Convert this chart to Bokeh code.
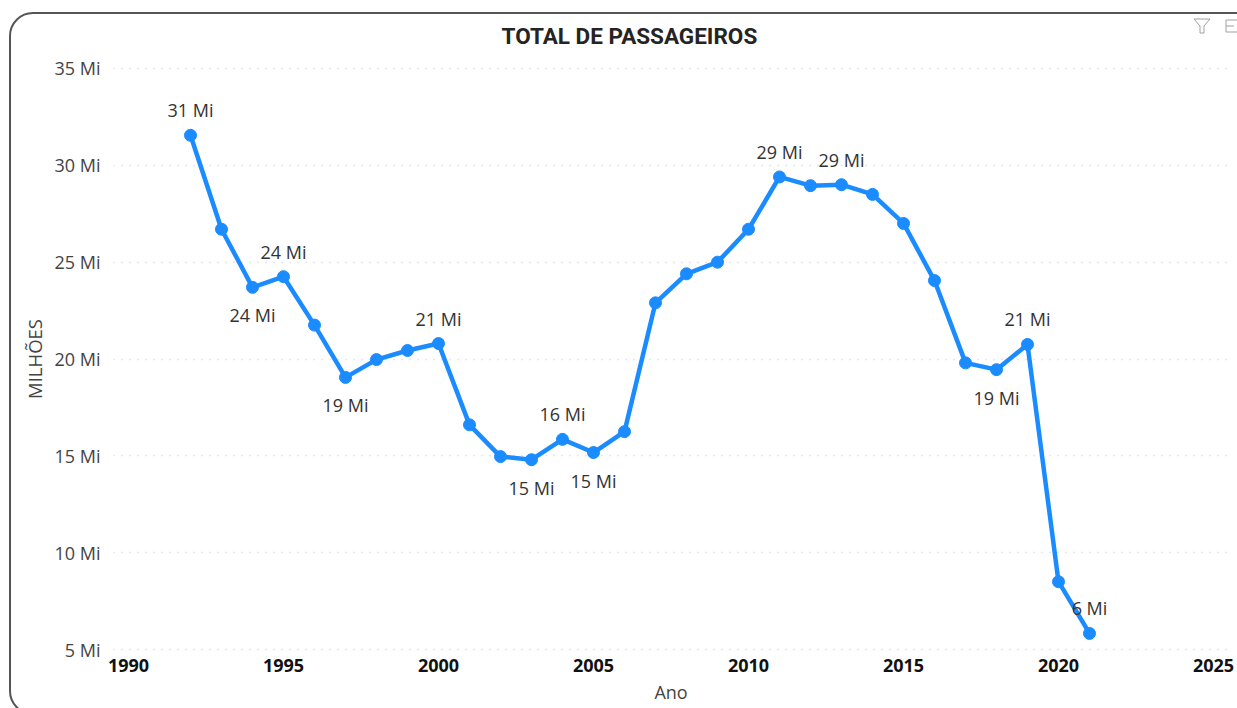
from bokeh.plotting import figure
from bokeh.embed import file_html
from bokeh.resources import INLINE
from bokeh.models import ColumnDataSource, Range1d, FixedTicker, InlineStyleSheet
from bokeh.core.properties import value

years = list(range(1992, 2022))
passengers = [31.55, 26.7, 23.7, 24.25, 21.75, 19.05, 19.97, 20.44, 20.8, 16.6,
              14.96, 14.8, 15.85, 15.17, 16.25, 22.9, 24.4, 25.0, 26.7, 29.4,
              28.95, 29.0, 28.5, 27.0, 24.05, 19.8, 19.45, 20.75, 8.5, 5.83]
label_years = [1992, 1994, 1995, 1997, 2000, 2003, 2004, 2005, 2011, 2013, 2018, 2019, 2021]
label_texts = ["31 Mi", "24 Mi", "24 Mi", "19 Mi", "21 Mi", "15 Mi", "16 Mi", "15 Mi",
               "29 Mi", "29 Mi", "19 Mi", "21 Mi", "6 Mi"]
label_below = [False, True, False, True, False, True, False, True, False, False, True, False, False]
x_ticks = [1990, 1995, 2000, 2005, 2010, 2015, 2020, 2025]
y_ticks = [5, 10, 15, 20, 25, 30, 35]

W, H = 1237, 708
F_L, F_R, F_T, F_B = 113, 1228, 66, 651  # frame edges in figure pixels
px_x, px_y = 31.0, 19.37
p = figure(width=W, height=H, output_backend="svg", toolbar_location=None,
           x_range=Range1d(1990 - 15 / px_x, 2025 + 15 / px_x),
           y_range=Range1d(5 - 2 / px_y, 35 + 2 / px_y),
           min_border_left=F_L, min_border_right=W - F_R,
           min_border_top=F_T, min_border_bottom=H - F_B,
           background_fill_color="white", border_fill_color="white", outline_line_color=None)

# Card border and header icons: page chrome, drawn with CSS above the canvas
filter_icon = ("data:image/svg+xml,%3Csvg xmlns='http://www.w3.org/2000/svg' width='18' height='16'%3E"
               "%3Cpath d='M1 1H17L11 8V15H7V8Z' fill='none' stroke='%23a0a0a0'/%3E%3C/svg%3E")
focus_icon = ("data:image/svg+xml,%3Csvg xmlns='http://www.w3.org/2000/svg' width='14' height='16'%3E"
              "%3Cpath d='M14 2H1V14H14M1 8H9' fill='none' stroke='%23a0a0a0'/%3E%3C/svg%3E")
p.stylesheets = [InlineStyleSheet(css=f"""
:host {{ overflow: hidden; }}
:host::before {{
  content: ""; position: absolute; left: 9px; top: 12px; width: 1260px; height: 703px;
  box-sizing: border-box; border: 2px solid #555555; border-radius: 24px;
  pointer-events: none; z-index: 5;
}}
:host::after {{
  content: ""; position: absolute; left: 1193px; top: 18px; width: 44px; height: 16px;
  background-image: url("{filter_icon}"), url("{focus_icon}");
  background-repeat: no-repeat; background-position: 0 0, 32px 0;
  pointer-events: none; z-index: 6;
}}
""")]

fnt = "Open Sans"
p.xgrid.visible = False
p.ygrid.ticker = FixedTicker(ticks=y_ticks)
p.ygrid.grid_line_color = "#cfcfcf"
p.ygrid.grid_line_dash = "1 7"
p.ygrid.grid_line_width = 1.5

p.xaxis.ticker = FixedTicker(ticks=x_ticks)
p.yaxis.ticker = FixedTicker(ticks=y_ticks)
p.yaxis.major_label_overrides = {t: f"{t} Mi" for t in y_ticks}
for ax in (p.xaxis, p.yaxis):
    ax.axis_line_color = None
    ax.major_tick_line_color = None
    ax.minor_tick_line_color = None
    ax.major_tick_in = 0
    ax.major_tick_out = 0
p.xaxis.major_label_text_font = fnt
p.xaxis.major_label_text_font_style = "bold"
p.xaxis.major_label_text_font_size = "18px"
p.xaxis.major_label_text_color = "#111111"
p.xaxis.major_label_standoff = 7
p.yaxis.major_label_text_font = fnt
p.yaxis.major_label_text_font_size = "18px"
p.yaxis.major_label_text_color = "#444444"
p.yaxis.major_label_standoff = 13

p.xaxis.axis_label = "Ano"
p.xaxis.axis_label_text_font = fnt
p.xaxis.axis_label_text_font_style = "normal"
p.xaxis.axis_label_text_font_size = "18px"
p.xaxis.axis_label_text_color = "#444444"
p.xaxis.axis_label_standoff = 5
p.yaxis.axis_label = "MILHÕES"
p.yaxis.axis_label_text_font = fnt
p.yaxis.axis_label_text_font_style = "normal"
p.yaxis.axis_label_text_font_size = "18.5px"
p.yaxis.axis_label_text_color = "#444444"
p.yaxis.axis_label_standoff = 5

p.title.text = "TOTAL DE PASSAGEIROS"
p.title.text_font = "Roboto"
p.title.text_font_style = "bold"
p.title.text_font_size = "22.5px"
p.title.text_color = "#252423"
p.title.align = "left"
p.title.offset = 388
p.title.standoff = 35

src = ColumnDataSource(dict(x=years, y=passengers))
p.line("x", "y", source=src, line_color="#1a8cff", line_width=4.5, line_join="round")
p.scatter("x", "y", source=src, size=12, color="#1a8cff")

lookup = dict(zip(years, passengers))
lab = ColumnDataSource(dict(
    x=label_years,
    y=[lookup[y] for y in label_years],
    t=label_texts,
    off=[28 if b else -25 for b in label_below],
))
p.text("x", "y", text="t", source=lab, y_offset="off", text_align="center", text_baseline="middle",
       text_font=value(fnt), text_font_size="18px", text_color="#333333")

open("out.html", "w").write(file_html(p, INLINE))
